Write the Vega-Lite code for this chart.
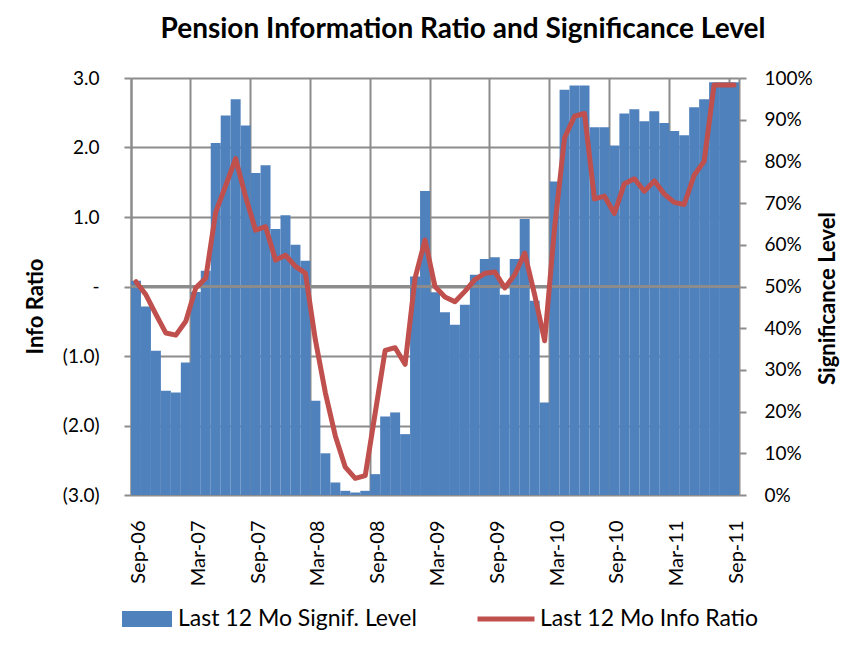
{
  "$schema": "https://vega.github.io/schema/vega-lite/v6.json",
  "width": 608,
  "height": 417,
  "autosize": {"type": "none"},
  "padding": {"left": 131, "top": 78, "right": 126, "bottom": 163},
  "background": "white",
  "title": {
    "text": "Pension Information Ratio and Significance Level",
    "frame": "group",
    "anchor": "middle",
    "dx": 28,
    "offset": 3,
    "baseline": "alphabetic",
    "font": "Lato",
    "fontSize": 28,
    "fontWeight": "bold",
    "color": "#000000"
  },
  "config": {
    "view": {"stroke": null},
    "font": "Lato",
    "axis": {
      "labelFont": "Lato",
      "labelFontSize": 19,
      "labelColor": "#000000",
      "titleFont": "Lato",
      "titleFontSize": 22,
      "titleFontWeight": "bold",
      "titleColor": "#000000",
      "domainColor": "#8c8c8c",
      "domainWidth": 2,
      "tickColor": "#8c8c8c",
      "tickWidth": 2,
      "gridColor": "#8c8c8c",
      "gridWidth": 2,
      "gridOpacity": 1
    },
    "legend": {
      "labelFont": "Lato",
      "labelFontSize": 23,
      "labelColor": "#000000",
      "labelLimit": 400,
      "padding": 0
    }
  },
  "data": {
    "values": [
      {"month": "Sep-06", "sig": 0.514, "ir": 0.07},
      {"month": "Oct-06", "sig": 0.452, "ir": -0.12},
      {"month": "Nov-06", "sig": 0.346, "ir": -0.40},
      {"month": "Dec-06", "sig": 0.250, "ir": -0.67},
      {"month": "Jan-07", "sig": 0.246, "ir": -0.70},
      {"month": "Feb-07", "sig": 0.318, "ir": -0.50},
      {"month": "Mar-07", "sig": 0.487, "ir": -0.02},
      {"month": "Apr-07", "sig": 0.538, "ir": 0.12},
      {"month": "May-07", "sig": 0.844, "ir": 1.07},
      {"month": "Jun-07", "sig": 0.910, "ir": 1.45},
      {"month": "Jul-07", "sig": 0.949, "ir": 1.84},
      {"month": "Aug-07", "sig": 0.886, "ir": 1.29},
      {"month": "Sep-07", "sig": 0.772, "ir": 0.81},
      {"month": "Oct-07", "sig": 0.791, "ir": 0.86},
      {"month": "Nov-07", "sig": 0.638, "ir": 0.38},
      {"month": "Dec-07", "sig": 0.671, "ir": 0.45},
      {"month": "Jan-08", "sig": 0.600, "ir": 0.29},
      {"month": "Feb-08", "sig": 0.562, "ir": 0.19},
      {"month": "Mar-08", "sig": 0.226, "ir": -0.77},
      {"month": "Apr-08", "sig": 0.100, "ir": -1.53},
      {"month": "May-08", "sig": 0.030, "ir": -2.15},
      {"month": "Jun-08", "sig": 0.010, "ir": -2.60},
      {"month": "Jul-08", "sig": 0.006, "ir": -2.76},
      {"month": "Aug-08", "sig": 0.010, "ir": -2.72},
      {"month": "Sep-08", "sig": 0.050, "ir": -1.82},
      {"month": "Oct-08", "sig": 0.188, "ir": -0.92},
      {"month": "Nov-08", "sig": 0.198, "ir": -0.88},
      {"month": "Dec-08", "sig": 0.146, "ir": -1.12},
      {"month": "Jan-09", "sig": 0.524, "ir": 0.12},
      {"month": "Feb-09", "sig": 0.729, "ir": 0.67},
      {"month": "Mar-09", "sig": 0.486, "ir": 0.00},
      {"month": "Apr-09", "sig": 0.438, "ir": -0.15},
      {"month": "May-09", "sig": 0.408, "ir": -0.22},
      {"month": "Jun-09", "sig": 0.456, "ir": -0.07},
      {"month": "Jul-09", "sig": 0.528, "ir": 0.10},
      {"month": "Aug-09", "sig": 0.566, "ir": 0.19},
      {"month": "Sep-09", "sig": 0.570, "ir": 0.21},
      {"month": "Oct-09", "sig": 0.480, "ir": -0.02},
      {"month": "Nov-09", "sig": 0.566, "ir": 0.17},
      {"month": "Dec-09", "sig": 0.662, "ir": 0.48},
      {"month": "Jan-10", "sig": 0.466, "ir": -0.12},
      {"month": "Feb-10", "sig": 0.222, "ir": -0.78},
      {"month": "Mar-10", "sig": 0.752, "ir": 0.85},
      {"month": "Apr-10", "sig": 0.972, "ir": 2.14},
      {"month": "May-10", "sig": 0.982, "ir": 2.45},
      {"month": "Jun-10", "sig": 0.982, "ir": 2.49},
      {"month": "Jul-10", "sig": 0.882, "ir": 1.26},
      {"month": "Aug-10", "sig": 0.882, "ir": 1.30},
      {"month": "Sep-10", "sig": 0.838, "ir": 1.05},
      {"month": "Oct-10", "sig": 0.915, "ir": 1.48},
      {"month": "Nov-10", "sig": 0.925, "ir": 1.55},
      {"month": "Dec-10", "sig": 0.896, "ir": 1.37},
      {"month": "Jan-11", "sig": 0.920, "ir": 1.52},
      {"month": "Feb-11", "sig": 0.892, "ir": 1.33},
      {"month": "Mar-11", "sig": 0.873, "ir": 1.21},
      {"month": "Apr-11", "sig": 0.863, "ir": 1.18},
      {"month": "May-11", "sig": 0.930, "ir": 1.60},
      {"month": "Jun-11", "sig": 0.949, "ir": 1.80},
      {"month": "Jul-11", "sig": 0.990, "ir": 2.90},
      {"month": "Aug-11", "sig": 0.990, "ir": 2.90},
      {"month": "Sep-11", "sig": 0.990, "ir": 2.90}
    ]
  },
  "layer": [
    {
      "mark": {"type": "bar", "stroke": null},
      "encoding": {
        "x": {
          "field": "month",
          "type": "ordinal",
          "sort": null,
          "scale": {"paddingInner": 0, "paddingOuter": 0},
          "axis": {
            "title": null,
            "values": ["Sep-06", "Mar-07", "Sep-07", "Mar-08", "Sep-08", "Mar-09", "Sep-09", "Mar-10", "Sep-10", "Mar-11", "Sep-11"],
            "bandPosition": 0,
            "labelAngle": 270,
            "labelOffset": 3,
            "labelPadding": 25,
            "labelFontSize": 20,
            "ticks": false,
            "domain": false,
            "grid": true
          }
        },
        "y": {
          "field": "sig",
          "type": "quantitative",
          "scale": {"domain": [0, 1], "nice": false},
          "axis": {
            "orient": "right",
            "title": "Significance Level",
            "format": ".0%",
            "values": [0, 0.1, 0.2, 0.3, 0.4, 0.5, 0.6, 0.7, 0.8, 0.9, 1.0],
            "grid": false,
            "tickSize": 7,
            "labelPadding": 18,
            "titleAngle": 270,
            "titleX": 88,
            "titleY": 220,
            "titleAlign": "center",
            "titleBaseline": "middle"
          }
        },
        "fill": {
          "datum": "Last 12 Mo Signif. Level",
          "type": "nominal",
          "scale": {"range": ["#4F81BD"]},
          "legend": {
            "title": null,
            "orient": "none",
            "legendX": -9,
            "legendY": 516,
            "symbolType": "M-1,-0.32H1V0.32H-1Z",
            "symbolSize": 2500,
            "symbolStrokeWidth": 0,
            "symbolOpacity": 1,
            "labelOffset": 6
          }
        }
      }
    },
    {
      "layer": [
        {
          "mark": {"type": "rule", "color": "#8c8c8c", "strokeWidth": 2},
          "encoding": {
            "y": {
              "datum": 0,
              "type": "quantitative",
              "scale": {"domain": [-3, 3], "nice": false},
              "axis": {
                "orient": "left",
                "title": "Info Ratio",
                "values": [-3, -2, -1, 0, 1, 2, 3],
                "labelExpr": "datum.value == 0 ? '-' : (datum.value < 0 ? '(' + format(-datum.value, '.1f') + ')' : format(datum.value, '.1f'))",
                "grid": true,
                "tickSize": 7,
                "labelPadding": 25,
                "titleAngle": 270,
                "titleX": -96,
                "titleY": 228,
                "titleAlign": "center",
                "titleBaseline": "middle"
              }
            }
          }
        },
        {
          "mark": {"type": "line", "strokeWidth": 5, "strokeJoin": "round", "strokeCap": "round"},
          "encoding": {
            "x": {"field": "month", "type": "ordinal", "sort": null},
            "y": {
              "field": "ir",
              "type": "quantitative",
              "scale": {"domain": [-3, 3], "nice": false},
              "axis": {
                "orient": "left",
                "title": "Info Ratio",
                "values": [-3, -2, -1, 0, 1, 2, 3],
                "labelExpr": "datum.value == 0 ? '-' : (datum.value < 0 ? '(' + format(-datum.value, '.1f') + ')' : format(datum.value, '.1f'))",
                "grid": true,
                "tickSize": 7,
                "labelPadding": 25,
                "titleAngle": 270,
                "titleX": -96,
                "titleY": 228,
                "titleAlign": "center",
                "titleBaseline": "middle"
              }
            },
            "stroke": {
              "datum": "Last 12 Mo Info Ratio",
              "type": "nominal",
              "scale": {"range": ["#C0504D"]},
              "legend": {
                "title": null,
                "orient": "none",
                "legendX": 344,
                "legendY": 510,
                "symbolType": "stroke",
                "symbolSize": 3249,
                "symbolStrokeWidth": 5,
                "labelOffset": 3
              }
            }
          }
        }
      ]
    }
  ],
  "resolve": {"scale": {"y": "independent", "fill": "independent", "stroke": "independent"}}
}
